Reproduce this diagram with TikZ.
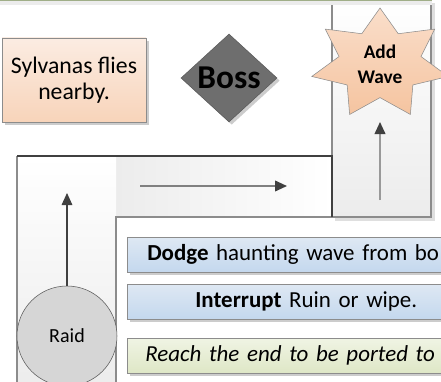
\documentclass[tikz,border=0pt]{standalone}
\usepackage{fontspec}
\setmainfont{Carlito}
\usetikzlibrary{arrows.meta,shapes.geometric,shadows}

\definecolor{lanegray}{RGB}{236,236,236}
\definecolor{edgegray}{RGB}{140,140,140}
\definecolor{edgedark}{RGB}{64,64,64}
\definecolor{peachtop}{RGB}{251,236,226}
\definecolor{peachbot}{RGB}{248,212,186}
\definecolor{startop}{RGB}{250,222,202}
\definecolor{starbot}{RGB}{245,196,160}
\definecolor{bossgray}{RGB}{110,110,110}
\definecolor{raidgray}{RGB}{214,214,214}
\definecolor{bluetop}{RGB}{222,232,243}
\definecolor{bluebot}{RGB}{196,216,238}
\definecolor{greentop}{RGB}{240,244,228}
\definecolor{greenbot}{RGB}{222,231,198}
\definecolor{topline}{RGB}{160,174,136}

\begin{document}
\begin{tikzpicture}[x=0.75pt, y=-0.75pt, % pixel grid, y pointing down
    laneedge/.style={draw=edgegray, line width=1pt},
    lanedark/.style={draw=edgedark, line width=0.8pt},
    shade/.style={drop shadow={shadow xshift=2pt, shadow yshift=-2pt, fill=black, opacity=0.2}},
    peachbox/.style={draw=edgegray, top color=peachtop, bottom color=peachbot, shade,
        minimum width=108pt, minimum height=63pt, align=center,
        font=\fontsize{17.8}{19.5}\selectfont},
    bossdiamond/.style={diamond, draw=black!65, fill=bossgray, shade, inner sep=0pt,
        minimum width=72pt, minimum height=66pt, font=\fontsize{25}{28}\selectfont\bfseries},
    wavestar/.style={draw=edgegray, top color=startop, bottom color=starbot},
    startext/.style={align=center, font=\fontsize{14.5}{18.5}\selectfont\bfseries},
    raidcircle/.style={circle, draw=black!65, fill=raidgray, minimum size=75pt,
        font=\fontsize{15}{18}\selectfont},
    bar/.style={draw=edgegray, shade, anchor=west, minimum height=26.25pt,
        inner xsep=15pt, text width=238.5pt, font=\fontsize{17.2}{20}\selectfont},
    bluebar/.style={bar, top color=bluetop, bottom color=bluebot},
    greenbar/.style={bar, top color=greentop, bottom color=greenbot,
        inner xsep=13.5pt, text width=241.5pt},
    flowdark/.style={draw=edgedark, line width=0.8pt,
        -{Triangle[length=9pt, width=8pt, color=edgedark]}},
    flowgray/.style={draw=gray, line width=1.3pt,
        -{Triangle[length=9pt, width=8pt, color=edgedark]}},
  ]
  \useasboundingbox (0,0) rectangle (441,381);
  \clip (0,0) rectangle (441,381);

  % route lanes
  \fill[gray!25] (431,3) rectangle (435,221);
  \fill[gray!25] (335,217) rectangle (435,221);
  \fill[left color=lanegray, right color=white] (116,156) rectangle (332,217);
  \fill[top color=white, bottom color=lanegray] (17,156) rectangle (116,390);
  \fill[top color=white, bottom color=lanegray] (332,-2) rectangle (431,217);
  \draw[laneedge] (17,390) -- (17,156);
  \draw[laneedge] (116,390) -- (116,217) -- (431,217) -- (431,-2);
  \draw[laneedge] (332,-2) -- (332,156);
  \draw[lanedark] (17,156) -- (332,156) -- (332,217);

  % strip at the top
  \fill[gray!15] (0,1.5) rectangle (432,5);
  \fill[topline] (0,0) rectangle (432,1.5);

  % events
  \node[peachbox] (sylvanas) at (74,80) {Sylvanas flies\\nearby.};
  \node[bossdiamond] (boss) at (229,78) {Boss};

  \draw[wavestar] plot[samples at={0,...,13}]
    ({380+70*(mod(\x,2)==0 ? 1 : 0.6)*cos(90+\x*360/14)},
     {64-56*(mod(\x,2)==0 ? 1 : 0.6)*sin(90+\x*360/14)}) -- cycle;
  \node[startext] (wave) at (380,64) {Add\\Wave};

  \node[raidcircle] (raid) at (67,336) {Raid};

  % direction of travel
  \coordinate (raidup) at (67,193);
  \coordinate (runstart) at (140,186);
  \coordinate (runend) at (287,186);
  \coordinate (wavefoot) at (380,200);
  \coordinate (wavetip) at (380,122);
  \draw[flowdark] (raid) -- (raidup);
  \draw[flowgray] (runstart) -- (runend);
  \draw[flowgray, draw=gray!80] (wavefoot) -- (wavetip);

  % tasks
  \node[bluebar, align=left] (dodge) at (127,254.5) {\textbf{Dodge} haunting wave from bo};
  \node[bluebar, align=center] (interrupt) at (127,301.5) {\textbf{Interrupt} Ruin or wipe.};
  \node[greenbar, align=left] (reach) at (127,355.5) {\itshape Reach the end to be ported to};
\end{tikzpicture}
\end{document}
